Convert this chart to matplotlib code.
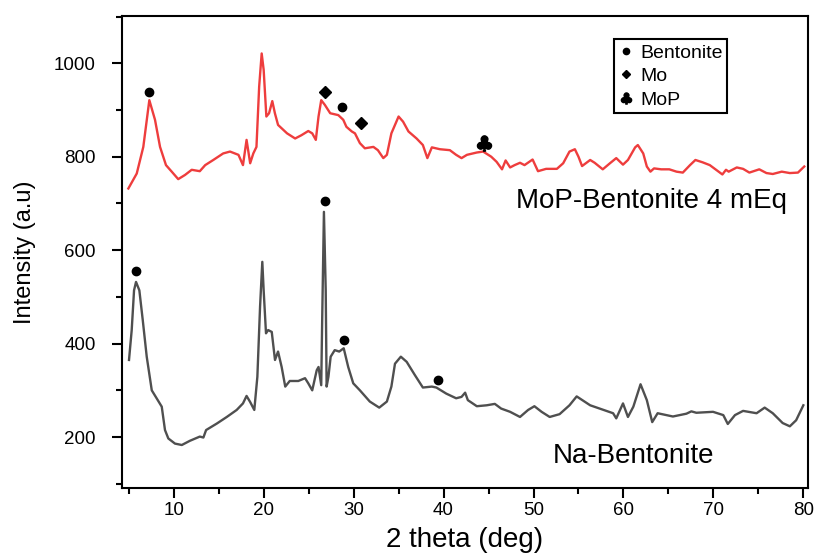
"""XRD patterns of Na-Bentonite and MoP-Bentonite 4 mEq."""

import matplotlib
matplotlib.use("Agg")
import matplotlib.pyplot as plt
import numpy as np
from matplotlib.lines import Line2D
from matplotlib.ticker import MultipleLocator

plt.rcParams["font.family"] = ["Liberation Sans", "DejaVu Sans"]

# traced (2 theta, intensity) points
mop_trace = [
    (4.96, 732), (5.89, 764), (6.62, 821), (7.29, 921), (7.92, 879), (8.48, 821),
    (9.14, 782), (9.78, 768), (10.5, 752), (11.26, 761), (12.0, 772), (12.9, 769),
    (13.5, 782), (14.4, 793), (15.5, 807), (16.26, 811), (17.2, 804), (17.7, 782),
    (18.1, 836), (18.5, 786), (18.85, 807), (19.2, 821), (19.5, 950), (19.78, 1021),
    (20.0, 986), (20.3, 886), (20.6, 893), (20.96, 919), (21.25, 893), (21.6, 868),
    (22.6, 850), (23.5, 839), (24.2, 846), (24.96, 855), (25.4, 850), (25.8, 836),
    (26.1, 886), (26.4, 921), (26.8, 911), (27.4, 893), (28.3, 889), (28.85, 879),
    (29.2, 864), (29.8, 854), (30.15, 850), (30.7, 829), (31.25, 818), (32.2, 821),
    (32.7, 814), (33.3, 797), (33.7, 804), (34.2, 850), (35.0, 886), (35.5, 875),
    (36.1, 854), (37.0, 839), (37.7, 825), (38.2, 797), (38.7, 820), (39.6, 816),
    (40.7, 814), (41.4, 804), (42.0, 797), (42.6, 804), (43.7, 809), (44.4, 811),
    (45.3, 800), (45.9, 789), (46.5, 773), (46.9, 792), (47.4, 777), (47.9, 782),
    (48.5, 787), (49.0, 782), (49.9, 794), (50.5, 769), (51.4, 774), (52.6, 774),
    (53.3, 786), (54.0, 811), (54.6, 816), (55.0, 800), (55.4, 780), (56.3, 793),
    (56.8, 787), (57.7, 773), (58.5, 786), (59.2, 797), (59.95, 783), (60.5, 793),
    (61.3, 820), (61.6, 825), (62.2, 807), (62.6, 779), (63.0, 768), (63.4, 775),
    (64.2, 773), (65.1, 773), (65.9, 768), (66.6, 766), (67.4, 782), (68.0, 793),
    (68.8, 788), (69.6, 782), (70.3, 772), (71.0, 762), (71.4, 772), (71.7, 768),
    (72.6, 777), (73.3, 774), (74.0, 766), (75.1, 773), (75.9, 765), (76.6, 763),
    (77.6, 768), (78.5, 765), (79.4, 766), (80.1, 779),
]

na_trace = [
    (5.03, 365), (5.33, 429), (5.59, 514), (5.81, 532), (6.18, 514), (6.56, 450),
    (7.0, 372), (7.56, 300), (8.1, 283), (8.67, 265), (9.03, 215), (9.4, 197),
    (10.14, 186), (10.9, 183), (11.8, 192), (12.9, 201), (13.3, 199), (13.6, 215),
    (14.8, 229), (15.9, 243), (17.0, 258), (17.7, 272), (18.1, 288), (18.5, 275),
    (18.96, 258), (19.3, 329), (19.6, 479), (19.85, 575), (20.0, 514), (20.26, 422),
    (20.5, 429), (20.9, 425), (21.26, 365), (21.6, 383), (22.0, 350), (22.4, 308),
    (22.9, 320), (23.85, 320), (24.6, 326), (24.96, 315), (25.4, 300), (25.9, 343),
    (26.1, 350), (26.4, 311), (26.5, 443), (26.7, 682), (26.9, 514), (27.0, 308),
    (27.2, 329), (27.45, 372), (27.9, 386), (28.4, 383), (28.9, 390), (29.4, 350),
    (29.96, 315), (30.7, 300), (31.8, 276), (32.85, 263), (33.7, 276), (34.2, 308),
    (34.6, 357), (35.25, 372), (35.9, 361), (36.8, 333), (37.7, 306), (38.7, 308),
    (39.2, 306), (40.3, 293), (41.4, 283), (42.0, 286), (42.4, 295), (42.7, 279),
    (43.7, 266), (44.8, 268), (45.7, 271), (46.4, 261), (47.4, 254), (48.5, 243),
    (49.4, 258), (50.1, 266), (50.9, 254), (51.8, 243), (52.9, 249), (54.0, 268),
    (54.8, 287), (56.3, 268), (58.85, 251), (59.2, 240), (59.95, 272), (60.5, 243),
    (61.1, 265), (61.9, 313), (62.6, 279), (63.2, 232), (63.8, 251), (65.5, 244),
    (67.0, 250), (67.55, 255), (68.1, 252), (69.96, 254), (71.1, 247), (71.6, 228),
    (72.4, 247), (73.3, 256), (74.8, 251), (75.7, 263), (76.6, 251), (77.7, 230),
    (78.5, 223), (79.2, 236), (80.0, 268),
]

# phase markers
bent_x = [7.29, 28.7, 5.78, 26.8, 28.96, 39.4]
bent_y = [939, 906, 556, 705, 408, 323]
mo_x = [26.8, 30.8]
mo_y = [939, 872]
mop_x = [44.5]
mop_y = [829]

RED = "#ee3d3d"
GREY = "#4f4f4f"

mop = np.array(mop_trace)
na = np.array(na_trace)

fig = plt.figure(figsize=(8.16, 5.54), dpi=100)
ax = fig.add_axes([0.1495, 0.120, 0.8405, 0.851])

ax.plot(mop[:, 0], mop[:, 1], color=RED, lw=1.7)
ax.plot(na[:, 0], na[:, 1], color=GREY, lw=1.7)

ax.plot(bent_x, bent_y, ls="none", marker="o", color="k", ms=6)
ax.plot(mo_x, mo_y, ls="none", marker="D", color="k", ms=6)
ax.plot(mop_x, mop_y, ls="none", marker=r"$\clubsuit$", color="k", ms=11)

ax.text(48.0, 705, "MoP-Bentonite 4 mEq", fontsize=20, va="center", ha="left")
ax.text(52.1, 159, "Na-Bentonite", fontsize=20, va="center", ha="left")

ax.set_xlim(4.25, 80.5)
ax.set_ylim(92, 1101)
ax.xaxis.set_major_locator(MultipleLocator(10))
ax.xaxis.set_minor_locator(MultipleLocator(5))
ax.yaxis.set_major_locator(MultipleLocator(200))
ax.yaxis.set_minor_locator(MultipleLocator(100))
ax.tick_params(which="both", direction="out", width=1.5, labelsize=13.5)
ax.tick_params(which="major", length=7)
ax.tick_params(which="minor", length=4)
ax.tick_params(axis="y", which="major", pad=12)
for spine in ax.spines.values():
    spine.set_linewidth(1.5)

ax.set_xlabel("2 theta (deg)", fontsize=20, labelpad=6)
ax.set_ylabel("Intensity (a.u)", fontsize=17, labelpad=13)

handles = [
    Line2D([], [], ls="none", marker="o", color="k", ms=4.5),
    Line2D([], [], ls="none", marker="D", color="k", ms=4.5),
    Line2D([], [], ls="none", marker=r"$\clubsuit$", color="k", ms=8),
]
leg = ax.legend(
    handles, ["Bentonite", "Mo", "MoP"],
    loc="upper left", bbox_to_anchor=(0.717, 0.951),
    borderaxespad=0, borderpad=0.25, handlelength=0.8, handletextpad=0.3,
    labelspacing=0.3, fontsize=14, fancybox=False, framealpha=1,
)
leg.get_frame().set_edgecolor("k")
leg.get_frame().set_linewidth(1.5)

fig.savefig("out.png", dpi=100)
